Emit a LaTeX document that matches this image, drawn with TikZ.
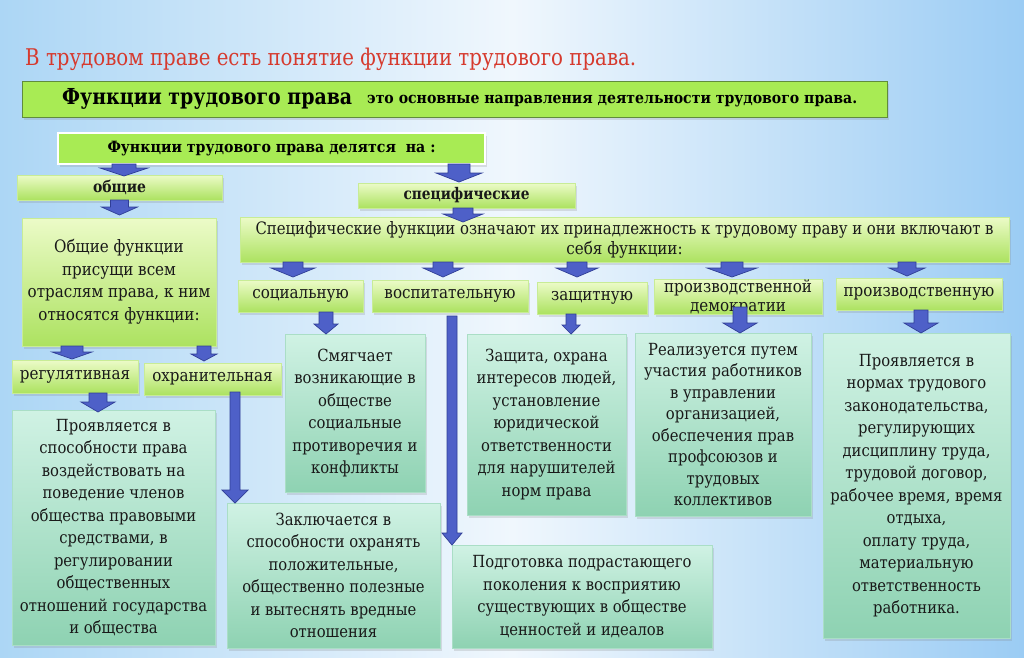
\documentclass[tikz,border=0pt]{standalone}
\usepackage{fontspec}
\usepackage{graphicx}
\setmainfont{DejaVu Serif}[FakeStretch=0.885]
\usetikzlibrary{shadows}
\definecolor{bgL}{RGB}{172,214,245}
\definecolor{bgM}{RGB}{240,247,253}
\definecolor{bgR}{RGB}{155,204,244}
\definecolor{titlered}{RGB}{214,58,46}
\definecolor{lime1}{RGB}{168,235,84}
\definecolor{limeborder}{RGB}{96,140,60}
\definecolor{g1}{RGB}{236,251,200}
\definecolor{g2}{RGB}{172,226,96}
\definecolor{g3}{RGB}{200,236,150}
\definecolor{t1}{RGB}{208,242,228}
\definecolor{t2}{RGB}{142,210,178}
\definecolor{t3}{RGB}{170,222,198}
\definecolor{arrblue}{RGB}{78,96,200}
\definecolor{arrdark}{RGB}{48,62,150}
\definecolor{txt}{RGB}{25,25,25}
\newcommand\fsz[2]{\fontsize{#1}{#2}\selectfont}
\newsavebox\fitbox
% scale a single line horizontally to a given width (in pt)
\newcommand\fitto[2]{\sbox\fitbox{#2}\pgfmathsetmacro\fitsx{#1/\wd\fitbox}\scalebox{\fitsx}[1]{\usebox\fitbox}}
% block arrow: x, ytop, ybottom, shaft half width, head half width, head length
\newcommand\blockarr[6]{%
  \filldraw[arr] (#1-#4,#2) -- (#1+#4,#2) -- (#1+#4,#3-#6) -- (#1+#5,#3-#6)
    -- (#1,#3) -- (#1-#5,#3-#6) -- (#1-#4,#3-#6) -- cycle;}
\tikzset{
  arr/.style={fill=arrblue, draw=arrdark, line width=0.7pt, line join=miter},
  shad/.style={drop shadow={opacity=0.22, shadow xshift=1.5pt, shadow yshift=-2.5pt}},
  limebox/.style={fill=lime1, draw=limeborder, line width=0.8pt, inner sep=0pt, shad},
  gbox/.style={top color=g1, bottom color=g2, draw=g3, line width=0.5pt,
    inner sep=0pt, align=center, text=txt, font=\fsz{17.1}{20}, shad},
  tbox/.style={top color=t1, bottom color=t2, draw=t3, line width=0.5pt,
    inner sep=0pt, align=center, text=txt, font=\fsz{16.7}{22.5}, shad},
}
\begin{document}
\begin{tikzpicture}[x=1pt,y=-1pt]
\useasboundingbox (0,0) rectangle (1024,657);
% background
\shade[left color=bgL, right color=bgM] (0,0) rectangle (512,657);
\shade[left color=bgM, right color=bgR] (512,0) rectangle (1024,657);

% title
\node[anchor=west, text=titlered, font=\fsz{23}{26}, inner sep=0pt] (title) at (25,59)
  {\fitto{611}{В трудовом праве есть понятие функции трудового права.}};

% top boxes
\node[limebox, minimum width=865pt, minimum height=36pt] (def) at (454.5,99) {};
\node[anchor=west, inner sep=0pt, font=\bfseries\fsz{22}{24}] (defA) at (62,99)
  {\fitto{290}{Функции трудового права}};
\node[anchor=west, inner sep=0pt, font=\bfseries\fsz{15.5}{18}] (defB) at (367,101)
  {\fitto{490}{это основные направления деятельности трудового права.}};
\node[limebox, draw=white, line width=1.5pt, minimum width=427pt, minimum height=31pt,
  font=\bfseries\fsz{15.5}{18}] (div) at (271.5,148.5)
  {\fitto{328}{Функции трудового права делятся\ \ на :}};
\node[gbox, minimum width=205pt, minimum height=25pt, font=\bfseries\fsz{16}{18}] (obsh) at (119.5,187.5) {\fitto{53}{общие}};
\node[gbox, minimum width=217pt, minimum height=25pt, font=\bfseries\fsz{16}{18}] (spec) at (466.5,195.5) {\fitto{126}{специфические}};
\node[gbox, minimum width=769pt, minimum height=45pt] (specF) at (624.5,239.5)
  {\fitto{738}{Специфические функции означают их принадлежность к трудовому праву и они включают в}\\ себя функции:};
\node[gbox, minimum width=194pt, minimum height=128pt, font=\fsz{17.1}{22.5}] (obshF) at (119,282)
  {Общие функции\\ присущи всем\\ отраслям права, к ним\\ относятся функции:};

% specific functions row
\node[gbox, minimum width=125pt, minimum height=32pt] (soc) at (300.5,296) {социальную};
\node[gbox, minimum width=156pt, minimum height=32pt] (vosp) at (450,296) {воспитательную};
\node[gbox, minimum width=110pt, minimum height=32pt] (zasch) at (592,298) {защитную};
\node[gbox, minimum width=168pt, minimum height=34pt, font=\fsz{17.1}{19}] (pd) at (738,297) {производственной\\ демократии};
\node[gbox, minimum width=166pt, minimum height=32pt] (proizv) at (919,294) {производственную};

% general functions row
\node[gbox, minimum width=126pt, minimum height=33pt] (regul) at (75,376.5) {регулятивная};
\node[gbox, minimum width=137pt, minimum height=32pt] (ohran) at (212.5,379) {охранительная};

% description boxes
\node[tbox, minimum width=140pt, minimum height=158pt] (smyag) at (355,413)
  {Смягчает\\ возникающие в\\ обществе\\ социальные\\ противоречия и\\ конфликты};
\node[tbox, minimum width=159pt, minimum height=181pt] (zaschita) at (546.5,424.5)
  {Защита, охрана\\ интересов людей,\\ установление\\ юридической\\ ответственности\\ для нарушителей\\ норм права};
\node[tbox, minimum width=176pt, minimum height=183pt, font=\fsz{16.7}{21.5}] (realiz) at (723,424.5)
  {Реализуется путем\\ участия работников\\ в управлении\\ организацией,\\ обеспечения прав\\ профсоюзов и\\ трудовых\\ коллективов};
\node[tbox, minimum width=187pt, minimum height=305pt] (provR) at (916.5,485.5)
  {Проявляется в\\ нормах трудового\\ законодательства,\\ регулирующих\\ дисциплину труда,\\ трудовой договор,\\ рабочее время, время\\ отдыха,\\ оплату труда,\\ материальную\\ ответственность\\ работника.};
\node[tbox, minimum width=203pt, minimum height=235pt] (provL) at (113.5,527.5)
  {Проявляется в\\ способности права\\ воздействовать на\\ поведение членов\\ общества правовыми\\ средствами, в\\ регулировании\\ общественных\\ отношений государства\\ и общества};
\node[tbox, minimum width=213pt, minimum height=145pt] (zakl) at (333.5,575.5)
  {Заключается в\\ способности охранять\\ положительные,\\ общественно полезные\\ и вытеснять вредные\\ отношения};
\node[tbox, minimum width=260pt, minimum height=103pt] (podg) at (582,596.5)
  {Подготовка подрастающего\\ поколения к восприятию\\ существующих в обществе\\ ценностей и идеалов};

% arrows
\blockarr{124}{164}{176}{12}{24}{8}
\blockarr{119.5}{200}{215}{9}{18}{8}
\blockarr{459}{164}{182}{11}{23}{9}
\blockarr{463}{208}{222}{10}{20}{8}
\blockarr{293}{262}{277}{10}{22}{9}
\blockarr{443}{262}{277}{10}{20}{9}
\blockarr{577}{262}{277}{10}{21}{9}
\blockarr{732}{262}{277}{11}{25}{9}
\blockarr{907}{262}{276}{9}{18}{8}
\blockarr{326}{312}{334}{7}{12}{10}
\blockarr{452}{316}{545}{5}{10}{12}
\blockarr{571}{314}{334}{5}{9}{9}
\blockarr{740}{307}{333}{7}{17}{10}
\blockarr{921}{310}{333}{7}{17}{10}
\blockarr{72}{346}{359}{11}{20}{7}
\blockarr{204}{346}{361}{7}{13}{7}
\blockarr{98}{393}{412}{9}{17}{10}
\blockarr{235}{392}{503}{5}{13}{13}
\end{tikzpicture}
\end{document}
